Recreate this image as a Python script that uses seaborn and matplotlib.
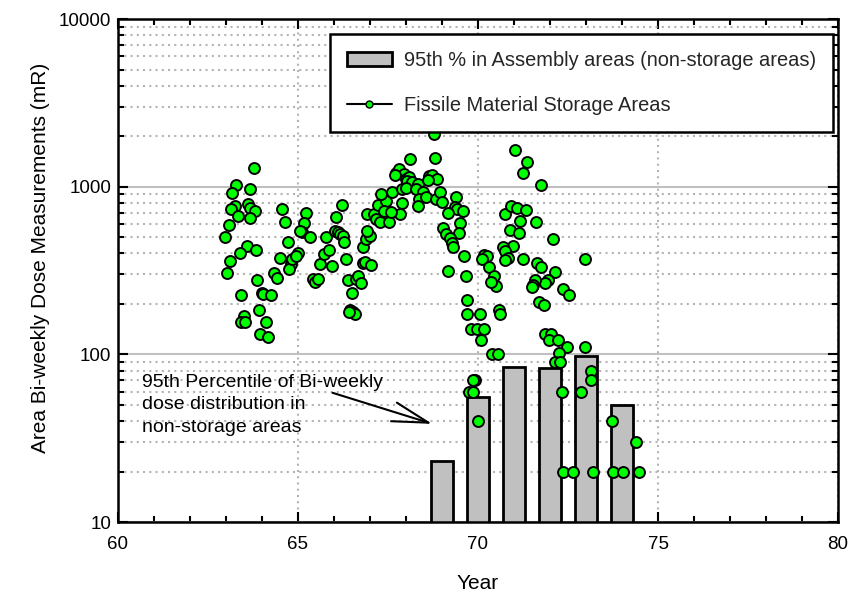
import matplotlib
matplotlib.use('Agg')
import matplotlib.pyplot as plt
import seaborn as sns
import pandas as pd
from matplotlib.lines import Line2D
from matplotlib.patches import Patch
from matplotlib.ticker import LogLocator, MultipleLocator, NullFormatter, FuncFormatter

# ---------------- data ----------------
bar_years = [69, 70, 71, 72, 73, 74]
bar_p95 = [23, 56, 84, 83, 98, 50]

storage_years = [
    63.77, 63.29, 63.18, 63.68, 63.24, 63.15, 63.33, 63.61, 63.68, 63.80,
    63.66, 63.07, 62.98, 63.57, 63.84, 63.38, 63.12, 63.04, 63.87, 63.43,
    64.00, 64.02, 64.24, 63.93, 63.49, 63.43, 63.54, 64.12, 63.95, 64.18,
    64.56, 64.63, 64.72, 64.49, 64.33, 64.42, 64.81, 64.76, 64.84, 64.99,
    64.95, 65.23, 65.18, 65.12, 65.06, 65.34, 65.41, 65.48, 65.55, 65.62,
    65.73, 65.87, 65.95, 65.78,
    66.06, 66.22, 66.04, 66.10, 66.18, 66.24, 66.29, 66.34, 66.38, 66.50,
    66.61, 66.68, 66.75, 66.45, 66.52, 66.58, 66.43, 66.81, 66.80, 66.86,
    67.03, 66.89, 67.00, 66.93, 66.93, 67.12, 67.17, 67.29, 67.52, 67.83,
    67.21, 67.44, 67.40, 67.58, 67.90, 67.30, 67.62, 67.72, 67.81, 67.95,
    68.00, 67.90, 67.69,
    68.78, 68.11, 68.81, 68.09, 68.04, 68.18, 68.32, 68.64, 68.72, 68.87,
    68.60, 68.01, 68.27, 68.48, 68.37, 68.55, 68.32, 68.83, 68.94, 69.01,
    69.38, 69.36, 69.43, 69.59, 69.18, 69.50, 69.47, 69.04, 69.11, 69.22,
    69.27, 69.31, 69.61, 69.16, 69.66, 69.70, 69.69, 70.06, 69.80, 69.98,
    70.17, 70.08, 70.38, 70.55,
    70.17, 70.26, 70.10, 70.30, 70.44, 70.49, 70.35, 70.58, 70.61, 71.04,
    71.37, 71.25, 71.76, 70.74, 70.93, 71.09, 71.33, 71.16, 71.60, 70.89,
    71.14, 72.08, 70.98, 70.69, 70.76, 70.84, 70.76, 71.25, 71.65, 71.74,
    72.13, 71.94, 71.86, 71.57, 71.53, 71.50, 72.35, 72.52, 71.69, 71.83,
    72.96,
    71.86, 72.04, 71.97, 72.22, 72.47, 72.96, 72.24, 72.15, 72.27, 72.32,
    72.85, 73.15, 73.13, 73.72, 74.40, 74.46, 72.36, 72.64, 73.19, 73.75,
    74.04, 69.92, 69.86, 69.75, 69.86, 69.99,
]
storage_dose = [
    1301, 1019, 913, 965, 764, 733, 665, 785, 745, 713,
    647, 588, 498, 440, 418, 400, 360, 305, 276, 226,
    232, 228, 225, 185, 170, 155, 155, 155, 133, 127,
    733, 613, 465, 378, 305, 285, 345, 323, 368, 400,
    388, 693, 604, 539, 545, 500, 282, 270, 280, 345,
    395, 418, 335, 500,
    660, 774, 541, 534, 519, 505, 470, 368, 278, 232,
    280, 293, 267, 185, 180, 173, 178, 434, 350, 355,
    340, 485, 507, 541, 684, 684, 641, 618, 618, 684,
    774, 821, 717, 703, 800, 910, 930, 1214, 1271, 1186,
    1107, 965, 1170,
    2057, 1458, 1478, 1138, 1085, 1070, 1034, 1154, 1170, 1107,
    1092, 978, 965, 926, 841, 864, 770, 841, 926, 807,
    864, 753, 733, 713, 693, 604, 530, 570, 519, 495,
    459, 434, 385, 315, 292, 212, 175, 175, 142, 142,
    142, 121, 101, 101,
    390, 385, 370, 330, 294, 257, 270, 185, 173, 1651,
    1400, 1210, 1020, 684, 770, 745, 728, 621, 613, 555,
    530, 485, 440, 434, 416, 378, 363, 368, 350, 330,
    312, 276, 265, 276, 260, 252, 245, 226, 204, 197,
    368,
    133, 133, 122, 122, 111, 111, 102, 90, 90, 60,
    60, 80, 70, 40, 30, 20, 20, 20, 20, 20,
    20, 70, 70, 60, 60, 40,
]

bar_label = '95th % in Assembly areas (non-storage areas)'
storage_label = 'Fissile Material Storage Areas'
x_label = 'Year'
y_label = 'Area Bi-weekly Dose Measurements (mR)'
note = '95th Percentile of Bi-weekly\ndose distribution in\nnon-storage areas'

# ---------------- style ----------------
sns.set_theme(style='white')
plt.rcParams['font.family'] = ['Liberation Sans', 'DejaVu Sans']

fig = plt.figure(figsize=(8.5, 5.99), dpi=100)
ax = fig.add_axes([0.1388, 0.1285, 0.8471, 0.8397])

bar_df = pd.DataFrame({'year': bar_years, 'p95': bar_p95})
sns.barplot(data=bar_df, x='year', y='p95', native_scale=True, width=0.63,
            color='#c0c0c0', saturation=1, edgecolor='black', linewidth=2,
            ax=ax, zorder=2)

pt_df = pd.DataFrame({'year': storage_years, 'dose': storage_dose})
sns.scatterplot(data=pt_df, x='year', y='dose', color='#00ff00',
                edgecolor='black', linewidth=1.4, s=62, ax=ax, zorder=3,
                legend=False)

ax.set_yscale('log')
ax.set_ylim(10, 10000)
ax.set_xlim(60, 80)

ax.set_xticks([60, 65, 70, 75, 80])
ax.xaxis.set_minor_locator(MultipleLocator(1))
ax.yaxis.set_major_locator(LogLocator(base=10, numticks=10))
ax.yaxis.set_minor_locator(LogLocator(base=10, subs=range(2, 10), numticks=100))
ax.yaxis.set_major_formatter(FuncFormatter(lambda v, p: f'{int(round(v))}'))
ax.yaxis.set_minor_formatter(NullFormatter())
ax.xaxis.set_major_formatter(FuncFormatter(lambda v, p: f'{int(round(v))}'))

ax.tick_params(which='both', direction='in', top=True, right=True,
               bottom=True, left=True, colors='black', width=1.5)
ax.tick_params(which='major', length=7, labelsize=13.5)
ax.tick_params(which='minor', length=4)
ax.tick_params(axis='x', which='major', pad=10)
ax.tick_params(axis='y', which='major', pad=5)

for sp in ax.spines.values():
    sp.set_visible(True)
    sp.set_color('black')
    sp.set_linewidth(1.8)

ax.grid(True, which='major', axis='y', color='#c0c0c0', lw=1.5, ls='-')
ax.grid(True, which='minor', axis='y', color='#b4b4b4', lw=1.5, ls=(0, (1, 2)))
ax.grid(True, which='major', axis='x', color='#b4b4b4', lw=1.5, ls=(0, (1, 2)))
ax.set_axisbelow(True)

ax.set_xlabel(x_label, fontsize=15, labelpad=15.5, color='black')
ax.set_ylabel(y_label, fontsize=15, color='black')
ax.yaxis.set_label_coords(-0.094, 0.525)

ax.text(60.66, 50, note, fontsize=14, ha='left', va='center',
        linespacing=1.4, color='black', zorder=4)
ax.annotate('', xy=(68.73, 38.5), xytext=(65.96, 59),
            arrowprops=dict(arrowstyle='->,head_length=1.3,head_width=0.35',
                            color='black', lw=1.5, mutation_scale=20,
                            shrinkA=0, shrinkB=0))

handles = [
    Patch(facecolor='#c0c0c0', edgecolor='black', linewidth=2, label=bar_label),
    Line2D([0], [0], color='black', lw=1.5, marker='o', markersize=5,
           markerfacecolor='#00ff00', markeredgecolor='black', label=storage_label),
]
leg = ax.legend(handles=handles, loc='upper right', bbox_to_anchor=(0.993, 0.970),
                borderaxespad=0, fontsize=14.4, frameon=True, fancybox=False,
                framealpha=1, edgecolor='black', labelspacing=1.28,
                handlelength=2.25, handletextpad=0.6, borderpad=0.85,
                numpoints=1)
leg.get_frame().set_linewidth(1.8)
leg.set_zorder(5)

fig.savefig('out.png', dpi=100)
